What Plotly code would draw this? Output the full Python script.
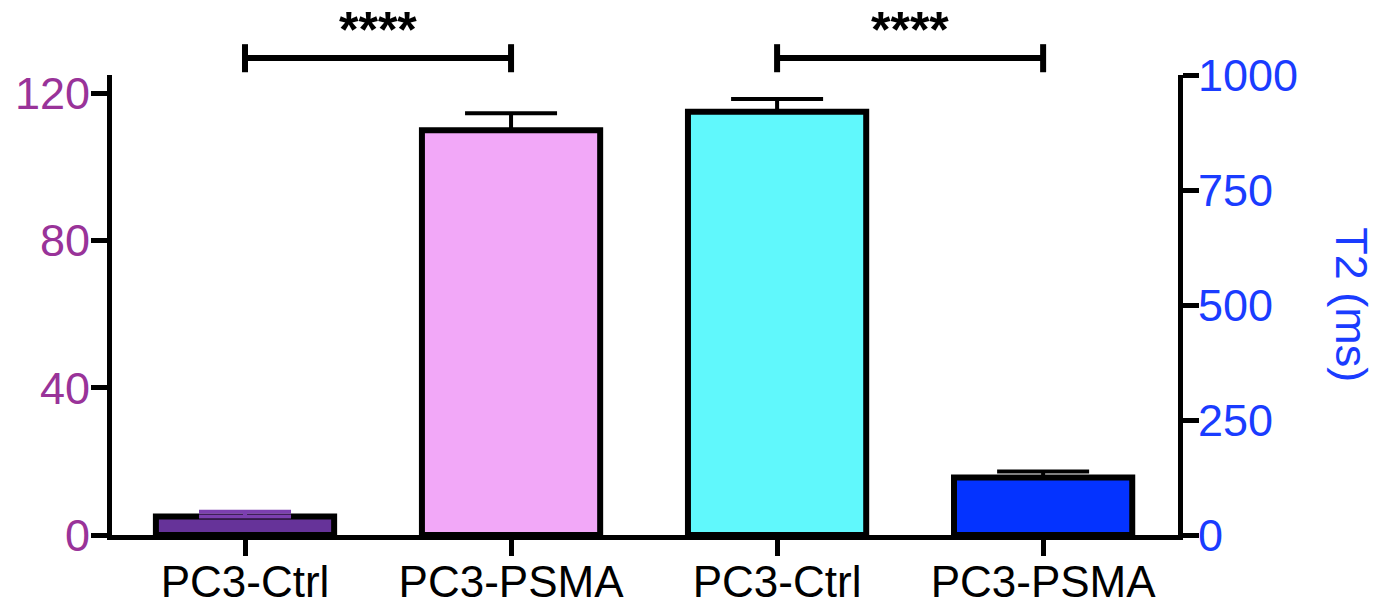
import plotly.graph_objects as go

# ---- data ----
categories = ["PC3-Ctrl", "PC3-PSMA", "PC3-Ctrl", "PC3-PSMA"]
positions = [0, 1, 2, 3]
values = [5.0, 110.0, 920.0, 125.0]
errors = [1.3, 4.6, 28.0, 13.0]
axis_of_bar = ["y", "y", "y2", "y2"]
bar_colors = ["#663399", "#F2A8F8", "#60F8FC", "#0433FF"]
err_colors = ["#7B3FB0", "black", "black", "black"]
left_ticks = [0, 40, 80, 120]
right_ticks = [0, 250, 500, 750, 1000]
sig_pairs = [(0, 1, "****"), (2, 3, "****")]

FONT = "Liberation Sans, Arial, Helvetica, sans-serif"
LEFT_COLOR = "#993399"
RIGHT_COLOR = "#1A3CFF"

fig = go.Figure()
for i in range(len(values)):
    fig.add_trace(go.Bar(
        x=[positions[i]], y=[values[i]], yaxis=axis_of_bar[i],
        width=0.67,
        marker=dict(color=bar_colors[i], line=dict(color="black", width=6)),
        error_y=dict(type="data", array=[errors[i]], arrayminus=[0],
                     color=err_colors[i], thickness=4, width=46),
        showlegend=False,
    ))

common = dict(showline=True, linecolor="black", linewidth=5,
              ticks="outside", ticklen=16, tickwidth=5, tickcolor="black",
              showgrid=False, zeroline=False, automargin=False)

fig.update_layout(
    width=1381, height=615,
    margin=dict(l=112, r=203, t=75, b=80),
    paper_bgcolor="white", plot_bgcolor="white",
    barmode="overlay",
    font=dict(family=FONT, size=44, color="black"),
    xaxis=dict(range=[-0.5, 3.507], tickvals=positions, ticktext=categories,
               tickfont=dict(size=44, color="black"), ticklabelstandoff=-12, **common),
    yaxis=dict(range=[0, 125], tickvals=left_ticks,
               tickfont=dict(size=45, color=LEFT_COLOR), ticklabelstandoff=-8, **common),
    yaxis2=dict(range=[0, 1000], tickvals=right_ticks, overlaying="y", side="right",
                tickfont=dict(size=45, color=RIGHT_COLOR), ticklabelstandoff=-10, **common),
)

# right axis title
fig.add_annotation(text="T2 (ms)", textangle=90, xref="paper", yref="paper",
                   x=1.163, y=0.5, showarrow=False, xanchor="center", yanchor="middle",
                   font=dict(size=45, color=RIGHT_COLOR, family=FONT))

# significance brackets
for a, b, label in sig_pairs:
    fig.add_shape(type="line", xref="x", yref="paper", x0=positions[a], x1=positions[b],
                  y0=1.037, y1=1.037, line=dict(color="black", width=6))
    for p in (a, b):
        fig.add_shape(type="line", xref="x", yref="paper", x0=positions[p], x1=positions[p],
                      y0=1.006, y1=1.067, line=dict(color="black", width=6))
    fig.add_annotation(text="<b>" + label + "</b>", xref="x", yref="paper",
                       x=(positions[a] + positions[b]) / 2, y=1.098, showarrow=False,
                       yanchor="middle", font=dict(size=50, color="black", family=FONT))

fig.write_html("out.html")
